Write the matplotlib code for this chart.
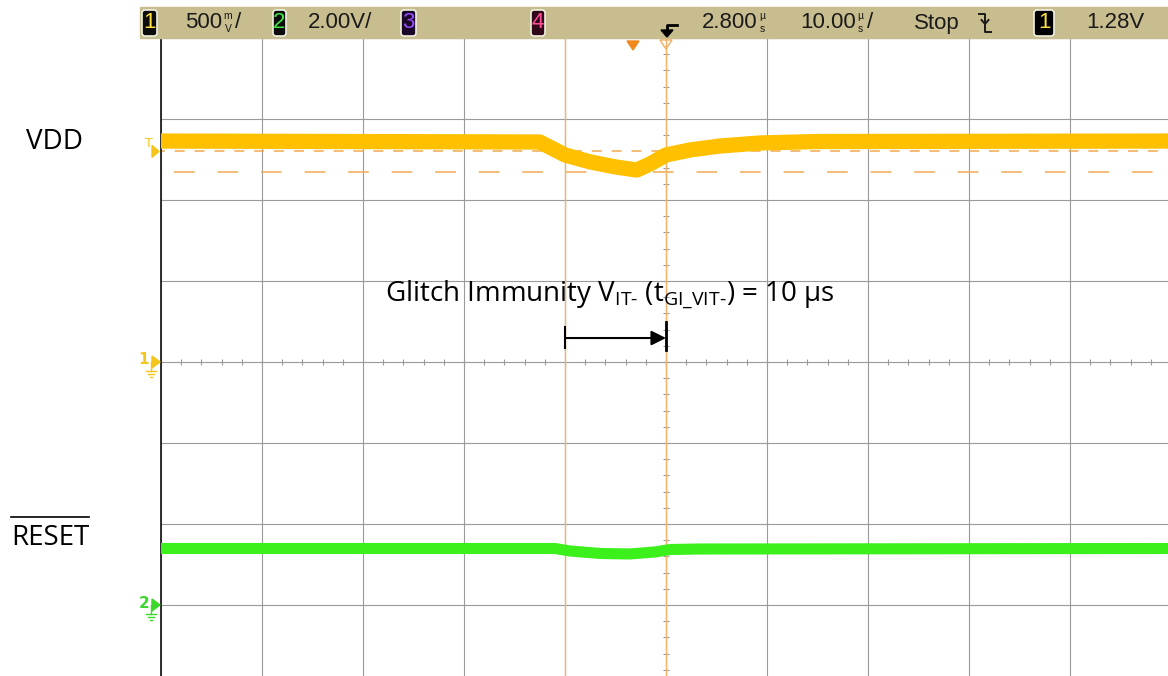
import numpy as np
import matplotlib
matplotlib.use("Agg")
import matplotlib.pyplot as plt
from matplotlib.patches import FancyBboxPatch, Polygon, Rectangle

# scope capture, time in us (0 = centre of screen), 10 us/div
t_vdd = [-50, -12.5, -10, -7.5, -5, -2.9, -1.6, 0, 2.4, 5.3, 9.3, 15, 50]
v_vdd = [1.364, 1.358, 1.278, 1.235, 1.204, 1.185, 1.222, 1.278, 1.309, 1.333, 1.352, 1.361, 1.364]

t_rst = [-50, -11, -9.5, -6.5, -3.6, -1.1, 0.4, 3.4, 50]
v_rst = [1.395, 1.395, 1.333, 1.272, 1.26, 1.309, 1.37, 1.383, 1.395]

ch1_scale = 0.5   # V/div
ch2_scale = 2.0   # V/div
ch1_offset = 0    # div (ground marker)
ch2_offset = -3
trig_level = 1.30
vit_level = 1.17
cursor_t = [-10, 0]

bar_items = [  # text, x(px)
    ("500", 185), ("2.00V/", 308), ("2.800", 702), ("10.00", 800),
    ("Stop", 914), ("1.28V", 1086)]

W, H = 1168, 676
PX_X, PX_Y = 101.0, 81.0      # pixels per division
X0, YC = 161, 362             # left edge, centre line

plt.rcParams['mathtext.fontset'] = 'custom'
plt.rcParams['mathtext.rm'] = 'Open Sans'
plt.rcParams['mathtext.it'] = 'Open Sans:italic'
plt.rcParams['mathtext.bf'] = 'Open Sans:bold'

fig = plt.figure(figsize=(W / 100, H / 100), dpi=100)
ax = fig.add_axes([X0 / W, (H - (YC + 4 * PX_Y)) / H, 10 * PX_X / W, 8 * PX_Y / H])
ax.set_xlim(-50, 50)
ax.set_ylim(-4, 4)
ax.set_xticks(np.arange(-50, 51, 10))
ax.set_yticks(np.arange(-4, 5, 1))
ax.tick_params(length=0, labelbottom=False, labelleft=False)
ax.grid(color='#9a9a9a', lw=0.8)
for s in ['top', 'right', 'bottom']:
    ax.spines[s].set_visible(False)
ax.spines['left'].set_color('#202020')
ax.spines['left'].set_linewidth(1.3)

# minor ticks on centre lines
mt = np.arange(-50, 50.1, 2)
ax.vlines(mt, -0.04, 0.04, color='#9a9a9a', lw=0.8)
my = np.arange(-4, 4.01, 0.2)
ax.hlines(my, -0.3, 0.3, color='#9a9a9a', lw=0.8)

# cursors
for c in cursor_t:
    ax.axvline(c, color='#f3b36a', lw=1.0, zorder=3)

# level lines
ax.axhline(trig_level / ch1_scale + ch1_offset, color='#eea94e', lw=1.1,
           ls=(4, (6.5, 6.5)), zorder=2)
ax.axhline(vit_level / ch1_scale + ch1_offset, color='#f0aa55', lw=1.1,
           ls=(20, (13.5, 15)), zorder=2)

# traces
ax.plot(t_vdd, np.array(v_vdd) / ch1_scale + ch1_offset, color='#ffc000',
        lw=11, solid_capstyle='butt', solid_joinstyle='round', zorder=4)
ax.plot(t_rst, np.array(v_rst) / ch2_scale + ch2_offset, color='#3cf01c',
        lw=8, solid_capstyle='butt', solid_joinstyle='round', zorder=4)

# glitch immunity arrow
ya = 0.296
ax.annotate('', xy=(cursor_t[1], ya), xytext=(cursor_t[0], ya),
            arrowprops=dict(arrowstyle='-|>', color='black', lw=1.5,
                            mutation_scale=22, shrinkA=0, shrinkB=0), zorder=6)
ax.plot([cursor_t[0]] * 2, [0.173, 0.432], color='black', lw=1.5, zorder=6)
ax.plot([cursor_t[1]] * 2, [0.148, 0.494], color='black', lw=2, zorder=6)
ax.text(-5.6, 0.74,
        r'Glitch Immunity V$_{\mathregular{IT\text{-}}}$ (t$_{\mathregular{GI\_VIT\text{-}}}$) = 10 µs',
        ha='center', va='baseline', fontsize=20, family='Open Sans', zorder=7)

# overlay in pixel coordinates
ov = fig.add_axes([0, 0, 1, 1])
ov.set_xlim(0, W)
ov.set_ylim(H, 0)
ov.axis('off')

def gy(off):
    return YC - off * PX_Y

# channel labels
ov.text(26, 149, 'VDD', fontsize=20, family='Open Sans', ha='left', va='baseline')
ov.text(11, 545, 'RESET', fontsize=20, family='Open Sans', ha='left', va='baseline')
ov.plot([11, 89], [517, 517], color='black', lw=1.2)

# top status bar
ov.add_patch(Rectangle((140, 7), W - 140, 31, color='#c8bd8e', zorder=1))
bar_font = ['Liberation Sans', 'DejaVu Sans']
ink = '#1a1a1a'
for txt, x in bar_items:
    ov.text(x, 23, txt, fontsize=16, family=bar_font, color=ink,
            ha='left', va='center', zorder=3)
ov.text(235, 23, '/', fontsize=16, family=bar_font, color=ink, va='center', zorder=3)
ov.text(867, 23, '/', fontsize=16, family=bar_font, color=ink, va='center', zorder=3)
for x, a, b in [(228, 'm', 'V'), (762, 'µ', 's'), (860, 'µ', 's')]:
    ov.text(x, 16, a, fontsize=7.5, family=bar_font, ha='center', va='center', color=ink, zorder=3)
    ov.text(x, 29, b, fontsize=7.5, family=bar_font, ha='center', va='center', color=ink, zorder=3)

badges = [(141, 17, '1', '#ffe040', '#0c0c0c'), (272, 15, '2', '#40e840', '#0c0c0c'),
          (400, 17, '3', '#9a50ff', '#1a0826'), (530, 16, '4', '#ff4d9a', '#30081a'),
          (1033, 22, '1', '#ffe040', '#000000')]
for x, w, d, fc, bg in badges:
    ov.add_patch(FancyBboxPatch((x + 1, 10), w - 2, 26, boxstyle='round,pad=0,rounding_size=3',
                                fc=bg, ec='#f0f0e0', lw=1.2, zorder=2))
    ov.text(x + w / 2, 23, d, fontsize=16, family=bar_font, color=fc,
            ha='center', va='center', zorder=3)

# trigger position symbol
ov.plot([667, 667, 677], [33, 25, 25], color='black', lw=2, zorder=3)
ov.add_patch(Polygon([(661, 30), (673, 30), (667, 37)], color='black', zorder=3))
# falling edge symbol
ov.plot([979, 985, 985, 991], [14, 14, 32, 32], color=ink, lw=1.4, zorder=3)
ov.plot([981.5, 985, 988.5], [20, 24, 20], color=ink, lw=1.4, zorder=3)

# trigger / delay markers under the bar
ov.add_patch(Polygon([(627, 41), (639, 41), (633, 50)], color='#f0891f', zorder=3))
ov.add_patch(Polygon([(660, 40), (672, 40), (666, 49)], fill=False, ec='#f0b060', lw=1, zorder=3))

# trigger level marker (ch1)
ty = gy(ch1_offset + trig_level / ch1_scale)
ov.text(149, ty - 8, 'T', fontsize=9, color='#f5c518', ha='center', va='center', zorder=3)
ov.add_patch(Polygon([(152, ty - 6), (152, ty + 6), (159, ty)], color='#f5c518', zorder=3))

# ground markers
for off, lab, col in [(ch1_offset, '1', '#f5c518'), (ch2_offset, '2', '#3cd82c')]:
    y = gy(off)
    ov.text(144, y - 2, lab, fontsize=11, color=col, ha='center', va='center',
            fontweight='bold', zorder=3)
    ov.add_patch(Polygon([(152, y - 6), (152, y + 6), (160, y)], color=col, zorder=3))
    ov.plot([151, 151], [y, y + 9], color=col, lw=1)
    ov.plot([146, 156], [y + 9, y + 9], color=col, lw=1)
    ov.plot([148, 154], [y + 12, y + 12], color=col, lw=1)
    ov.plot([150, 152], [y + 15, y + 15], color=col, lw=1)

fig.savefig('out.png', dpi=100)
